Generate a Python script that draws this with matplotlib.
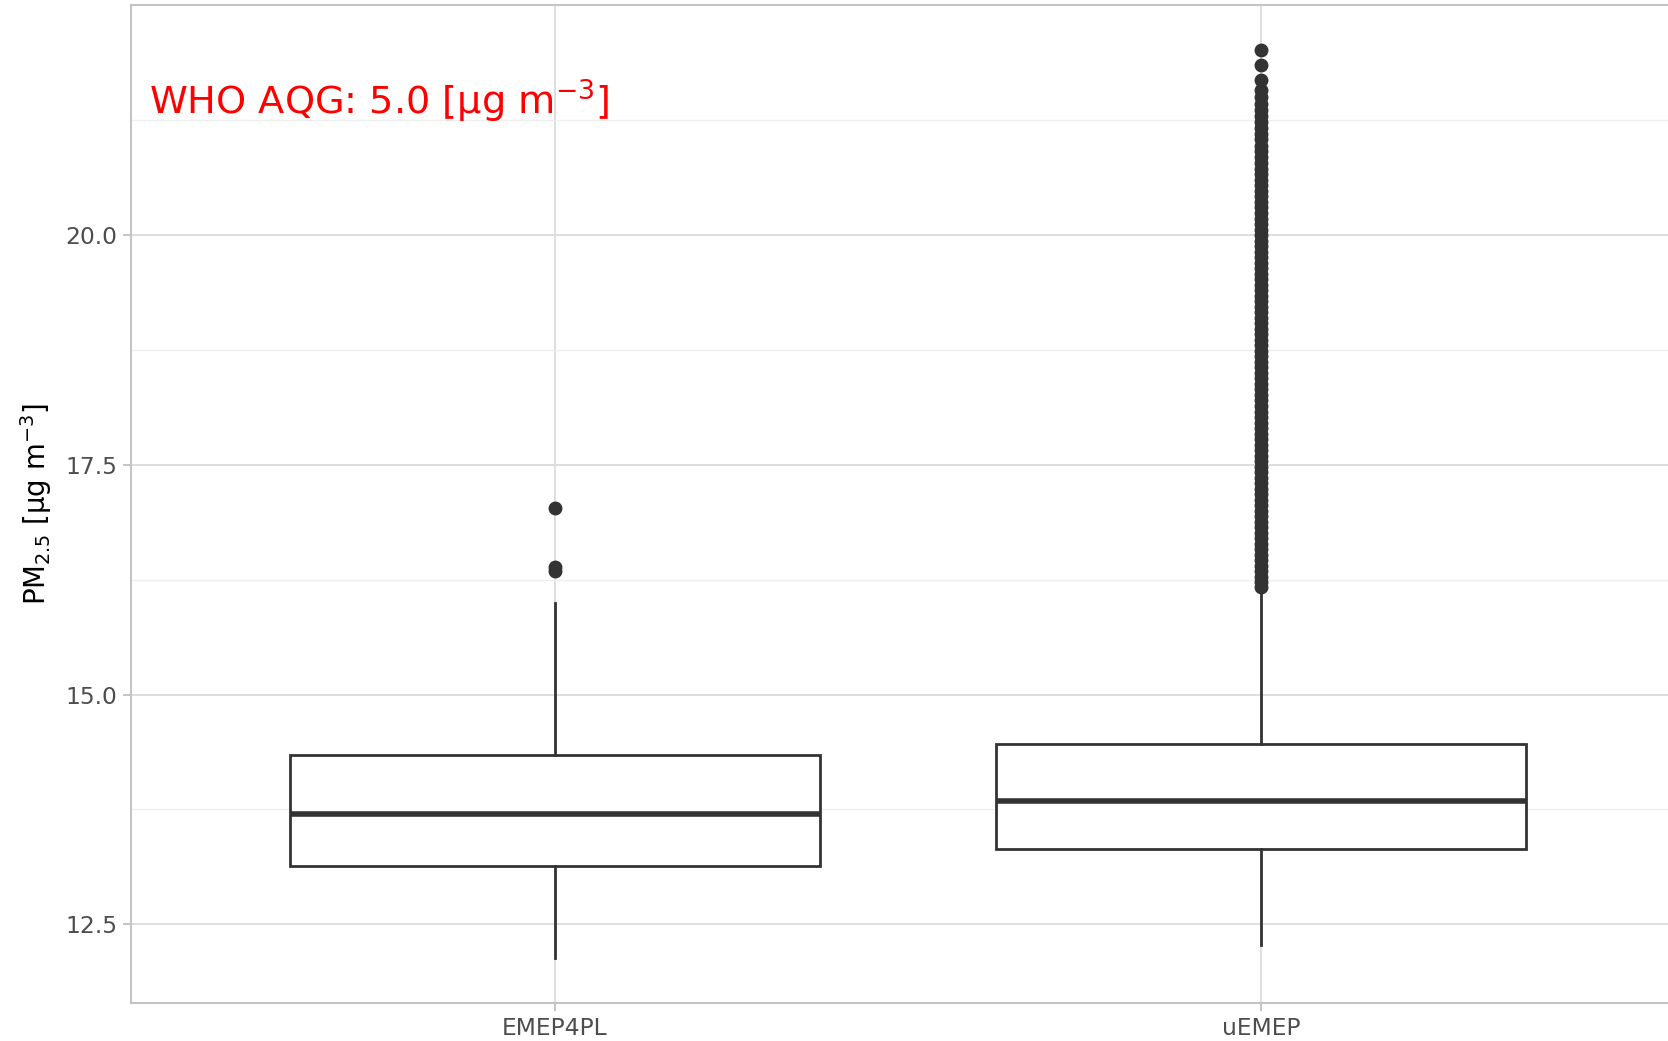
import matplotlib
matplotlib.use("Agg")
import matplotlib.pyplot as plt
from matplotlib.ticker import FixedLocator, FormatStrFormatter

# ---- data ----
categories = ["EMEP4PL", "uEMEP"]
q1 = [13.14, 13.32]
median = [13.70, 13.84]
q3 = [14.34, 14.46]
whisker_low = [12.13, 12.28]
whisker_high = [16.00, 16.12]
outliers_emep4pl = [17.03, 16.39, 16.35]
outliers_uemep = [
    22.01, 21.85, 21.69, 21.58, 21.50, 21.43, 21.36, 21.30, 21.23, 21.17,
    21.10, 21.04, 20.97, 20.91, 20.85, 20.78, 20.72, 20.66, 20.60, 20.54,
    20.48, 20.42, 20.36, 20.30, 20.24, 20.18, 20.12, 20.06, 20.00, 19.94,
    19.88, 19.82, 19.76, 19.70, 19.64, 19.58, 19.52, 19.46, 19.40, 19.34,
    19.28, 19.22, 19.16, 19.10, 19.04, 18.98, 18.92, 18.86, 18.80, 18.74,
    18.68, 18.62, 18.56, 18.50, 18.44, 18.38, 18.32, 18.26, 18.20, 18.14,
    18.08, 18.02, 17.96, 17.90, 17.84, 17.78, 17.72, 17.66, 17.60, 17.54,
    17.48, 17.42, 17.36, 17.30, 17.24, 17.18, 17.12, 17.06, 17.00, 16.94,
    16.88, 16.82, 16.76, 16.70, 16.64, 16.58, 16.52, 16.46, 16.40, 16.34,
    16.28, 16.22, 16.17,
]
y_ticks = [12.5, 15.0, 17.5, 20.0]
y_minor = [13.75, 16.25, 18.75, 21.25]
annotation = r"WHO AQG: 5.0 [$\mathregular{\mu}$g m$^{-3}$]"

fliers = [outliers_emep4pl, outliers_uemep]

fig = plt.figure(figsize=(16.68, 10.41), dpi=100)
ax = fig.add_axes([0.0785, 0.0365, 0.9215 + 0.01, 0.9584])

stats = []
for i, name in enumerate(categories):
    stats.append(dict(label=name, med=median[i], q1=q1[i], q3=q3[i],
                      whislo=whisker_low[i], whishi=whisker_high[i],
                      fliers=fliers[i]))

dark = "#333333"
ax.bxp(stats, positions=[1, 2], widths=0.75, patch_artist=True,
       showcaps=False,
       boxprops=dict(facecolor="white", edgecolor=dark, linewidth=2.0),
       medianprops=dict(color=dark, linewidth=4.0),
       whiskerprops=dict(color=dark, linewidth=2.0),
       flierprops=dict(marker="o", markerfacecolor=dark, markeredgecolor=dark,
                       markersize=9, linestyle="none"),
       zorder=3)

ax.set_xlim(0.4, 2.6)
ax.set_ylim(11.644, 22.50)

ax.yaxis.set_major_locator(FixedLocator(y_ticks))
ax.yaxis.set_minor_locator(FixedLocator(y_minor))
ax.yaxis.set_major_formatter(FormatStrFormatter("%.1f"))
ax.set_xticks([1, 2])
ax.set_xticklabels(categories)

ax.grid(True, which="major", color="#DEDEDE", linewidth=1.4, zorder=0)
ax.grid(True, which="minor", axis="y", color="#EFEFEF", linewidth=1.0, zorder=0)
ax.set_axisbelow(True)

for side in ["left", "top", "bottom", "right"]:
    ax.spines[side].set_color("#C4C4C4")
    ax.spines[side].set_linewidth(1.5)
ax.spines["right"].set_visible(False)

ax.tick_params(axis="both", which="major", colors="#C4C4C4", length=6, width=1.4,
               labelcolor="#4D4D4D", labelsize=16.8, pad=4)
ax.tick_params(axis="y", which="minor", length=0)

ax.set_ylabel(r"PM$_{2.5}$ [$\mathregular{\mu}$g m$^{-3}$]", fontsize=19.8, color="black", labelpad=8)

ax.text(0.0118, 0.904, annotation, transform=ax.transAxes, color="#FF0000",
        fontsize=27.5, ha="left", va="center")

fig.savefig("out.png", dpi=100)
